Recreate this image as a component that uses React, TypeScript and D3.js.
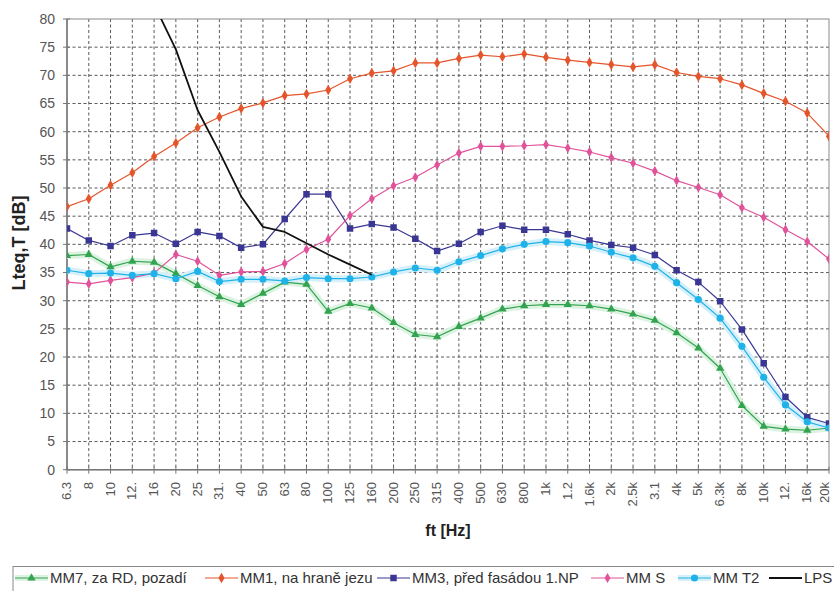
import React from 'react';
import * as d3 from 'd3';

// third-octave bands (unique keys) and the labels as printed on the axis
const bands = ['6.3', '8', '10', '12.5', '16', '20', '25', '31.5', '40', '50', '63', '80', '100', '125', '160', '200', '250', '315', '400', '500', '630', '800', '1k', '1.25k', '1.6k', '2k', '2.5k', '3.15k', '4k', '5k', '6.3k', '8k', '10k', '12.5k', '16k', '20k'];
const bandLabels = ['6.3', '8', '10', '12.', '16', '20', '25', '31.', '40', '50', '63', '80', '100', '125', '160', '200', '250', '315', '400', '500', '630', '800', '1k', '1.2', '1.6k', '2k', '2.5k', '3.1', '4k', '5k', '6.3k', '8k', '10k', '12.', '16k', '20k'];
const yTicks = [0, 5, 10, 15, 20, 25, 30, 35, 40, 45, 50, 55, 60, 65, 70, 75, 80];

const mm7 = [38.0, 38.2, 36.0, 37.0, 36.8, 34.8, 32.7, 30.7, 29.3, 31.3, 33.3, 32.9, 28.1, 29.5, 28.7, 26.1, 24.0, 23.6, 25.4, 26.9, 28.5, 29.1, 29.3, 29.3, 29.1, 28.5, 27.6, 26.5, 24.3, 21.6, 18.0, 11.4, 7.7, 7.2, 7.0, 7.4];
const mm1 = [46.7, 48.1, 50.5, 52.7, 55.6, 58.0, 60.7, 62.6, 64.1, 65.1, 66.4, 66.7, 67.4, 69.4, 70.4, 70.8, 72.2, 72.2, 73.0, 73.6, 73.3, 73.8, 73.2, 72.7, 72.3, 71.9, 71.5, 71.9, 70.5, 69.8, 69.4, 68.3, 66.8, 65.4, 63.3, 59.2];
const mm3 = [42.8, 40.7, 39.7, 41.6, 42.0, 40.1, 42.2, 41.5, 39.4, 40.0, 44.5, 48.9, 48.9, 42.8, 43.6, 43.0, 41.0, 38.8, 40.1, 42.2, 43.3, 42.6, 42.6, 41.8, 40.7, 39.9, 39.4, 38.1, 35.4, 33.3, 29.9, 24.9, 18.9, 12.9, 9.3, 8.2];
const mmS = [33.3, 33.0, 33.6, 34.1, 34.9, 38.2, 37.0, 34.5, 35.1, 35.2, 36.6, 39.1, 40.9, 45.1, 48.1, 50.4, 51.9, 54.1, 56.2, 57.4, 57.4, 57.5, 57.7, 57.1, 56.4, 55.4, 54.4, 53.0, 51.3, 50.1, 48.8, 46.5, 44.8, 42.6, 40.5, 37.4];
const mmT2 = [35.4, 34.8, 34.9, 34.5, 34.8, 33.9, 35.2, 33.4, 33.8, 33.8, 33.5, 34.1, 33.9, 33.9, 34.2, 35.1, 35.8, 35.4, 36.9, 38.0, 39.2, 40.0, 40.5, 40.3, 39.7, 38.6, 37.6, 36.1, 33.2, 30.2, 26.9, 21.9, 16.4, 11.5, 8.5, 7.4];
const lps = [null, null, null, null, 82.6, 74.6, 63.8, 56.4, 48.5, 43.1, 42.2, 40.2, 38.2, 36.4, 34.6, null, null, null, null, null, null, null, null, null, null, null, null, null, null, null, null, null, null, null, null, null];

type Series = {
  name: string;
  values: (number | null)[];
  color: string;
  glow?: string;
  symbol: d3.SymbolType | null;
  size: number;
  legendX: number;
};

const series: Series[] = [
  { name: 'MM7, za RD, pozadí', values: mm7, color: '#33a350', glow: '#dcf3e2', symbol: d3.symbolTriangle, size: 30, legendX: 15 },
  { name: 'MM1, na hraně jezu', values: mm1, color: '#e5552c', symbol: d3.symbolDiamond, size: 32, legendX: 205 },
  { name: 'MM3, před fasádou 1.NP', values: mm3, color: '#3a3694', symbol: d3.symbolSquare, size: 42, legendX: 377 },
  { name: 'MM S', values: mmS, color: '#e0539a', symbol: d3.symbolDiamond, size: 30, legendX: 591 },
  { name: 'MM T2', values: mmT2, color: '#1fb2e8', glow: '#d6f0fb', symbol: d3.symbolCircle, size: 40, legendX: 678 },
  { name: 'LPS', values: lps, color: '#111111', symbol: null, size: 0, legendX: 769 },
];

const W = 834;
const H = 591;
const plot = { left: 67, right: 829, top: 19, bottom: 469.7 };
const font = '"Liberation Sans", Arial, sans-serif';

export default function App() {
  const x = d3.scalePoint<string>().domain(bands).range([plot.left, plot.right]);
  const y = d3.scaleLinear().domain([0, 80]).range([plot.bottom, plot.top]);

  const line = d3
    .line<number | null>()
    .defined(d => d != null)
    .x((_, i) => x(bands[i])!)
    .y(d => y(d as number));

  return (
    <svg width={W} height={H} style={{ position: 'absolute', left: 0, top: 0, background: '#fff' }} fontFamily={font}>
      <defs>
        <clipPath id="plotClip">
          <rect x={plot.left} y={plot.top} width={plot.right - plot.left} height={plot.bottom - plot.top} />
        </clipPath>
      </defs>

      {/* grid */}
      <g stroke="#333" strokeWidth={1} strokeDasharray="3,2.5" opacity={0.8}>
        {yTicks.slice(1, -1).map(t => (
          <line key={'h' + t} x1={plot.left} x2={plot.right} y1={y(t)} y2={y(t)} />
        ))}
        {bands.slice(1, -1).map(b => (
          <line key={'v' + b} x1={x(b)} x2={x(b)} y1={plot.top} y2={plot.bottom} />
        ))}
      </g>

      {/* frame */}
      <rect x={plot.left} y={plot.top} width={plot.right - plot.left} height={plot.bottom - plot.top} fill="none" stroke="#8a8a8a" strokeWidth={1} />
      <line x1={plot.left} x2={plot.left} y1={plot.top} y2={plot.bottom} stroke="#777" strokeWidth={1.5} />
      <line x1={plot.left} x2={plot.right} y1={plot.bottom} y2={plot.bottom} stroke="#777" strokeWidth={1.5} />

      {/* y axis ticks + labels */}
      {yTicks.map(t => (
        <g key={'yt' + t}>
          <line x1={plot.left - 4} x2={plot.left + 3} y1={y(t)} y2={y(t)} stroke="#777" />
          <text x={55} y={y(t)} dy="0.35em" textAnchor="end" fontSize={14} fill="#555">{t}</text>
        </g>
      ))}

      {/* x axis ticks + labels (last one nudged in so it stays on the page) */}
      {bands.map((b, i) => (
        <g key={'xt' + b}>
          <line x1={x(b)} x2={x(b)} y1={plot.bottom - 3} y2={plot.bottom + 4} stroke="#777" />
          <text transform={`translate(${Math.min(x(b)! + 4, W - 5)},482) rotate(-90)`} textAnchor="end" fontSize={13} fill="#555">
            {bandLabels[i]}
          </text>
        </g>
      ))}

      {/* axis titles */}
      <text transform="translate(25,243) rotate(-90)" textAnchor="middle" fontSize={18} fontWeight="bold" fill="#222">Lteq,T [dB]</text>
      <text x={448} y={536} textAnchor="middle" fontSize={16} fontWeight="bold" fill="#222">ft [Hz]</text>

      {/* series */}
      <g clipPath="url(#plotClip)">
        {series.map(s => s.glow && (
          <path key={'g' + s.name} d={line(s.values) || ''} fill="none" stroke={s.glow} strokeWidth={7} strokeLinejoin="round" />
        ))}
        {series.map(s => (
          <g key={s.name}>
            <path d={line(s.values) || ''} fill="none" stroke={s.color} strokeWidth={s.symbol ? 1.2 : 1.8} strokeLinejoin="round" />
            {s.symbol && s.values.map((v, i) => v == null ? null : (
              <path
                key={i}
                transform={`translate(${x(bands[i])},${y(v)})`}
                d={d3.symbol().type(s.symbol!).size(s.size)() || ''}
                fill={s.color}
              />
            ))}
          </g>
        ))}
      </g>

      {/* legend */}
      <rect x={13} y={566.5} width={840} height={40} fill="#fff" stroke="#888" strokeWidth={1} />
      {series.map(s => (
        <g key={'lg' + s.name}>
          {s.glow && <line x1={s.legendX} x2={s.legendX + 33} y1={578} y2={578} stroke={s.glow} strokeWidth={6} />}
          <line x1={s.legendX} x2={s.legendX + 33} y1={578} y2={578} stroke={s.color} strokeWidth={s.symbol ? 1.2 : 1.8} />
          {s.symbol && (
            <path transform={`translate(${s.legendX + 16.5},578)`} d={d3.symbol().type(s.symbol).size(s.size)() || ''} fill={s.color} />
          )}
          <text x={s.legendX + 35} y={578} dy="0.35em" fontSize={15} fill="#333">{s.name}</text>
        </g>
      ))}
    </svg>
  );
}
